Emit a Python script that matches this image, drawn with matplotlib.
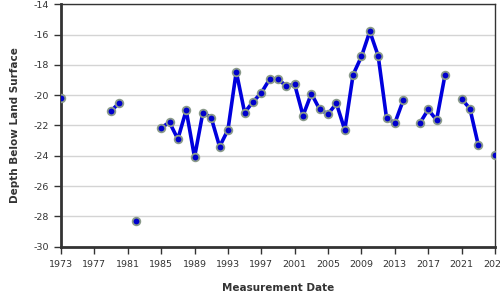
import numpy as np
import matplotlib
matplotlib.use('Agg')
import matplotlib.pyplot as plt

# water level readings, one per year (NaN = no measurement, breaks the line)
years = np.arange(1973, 2026)
depth = {
    1973: -20.2,
    1979: -21.05, 1980: -20.5,
    1982: -28.3,
    1985: -22.15, 1986: -21.8, 1987: -22.9, 1988: -21.0, 1989: -24.1,
    1990: -21.15, 1991: -21.5, 1992: -23.4, 1993: -22.3, 1994: -18.45,
    1995: -21.15, 1996: -20.45, 1997: -19.85, 1998: -18.95, 1999: -18.95,
    2000: -19.4, 2001: -19.3, 2002: -21.35, 2003: -19.9, 2004: -20.95,
    2005: -21.25, 2006: -20.55, 2007: -22.3, 2008: -18.65, 2009: -17.45,
    2010: -15.8, 2011: -17.4, 2012: -21.5, 2013: -21.85, 2014: -20.35,
    2016: -21.85, 2017: -20.95, 2018: -21.65, 2019: -18.7,
    2021: -20.25, 2022: -20.9, 2023: -23.3,
    2025: -23.95,
}
values = np.array([depth.get(y, np.nan) for y in years])

xticks = list(range(1973, 2026, 4))
yticks = list(range(-30, -13, 2))

plt.rcParams['axes.unicode_minus'] = False
plt.rcParams['font.family'] = 'DejaVu Sans'

fig = plt.figure(figsize=(5, 3), dpi=100)
ax = fig.add_axes([0.122, 0.178, 0.868, 0.808])

ax.plot(years, values, color='#0000dd', lw=2.6, zorder=3)
ax.plot(years, values, ls='none', marker='o', ms=5.5, mfc='#0000cc',
        mec='#8a9a8a', mew=1.3, zorder=4)

ax.set_xlim(1973, 2025)
ax.set_ylim(-30, -14)
ax.set_xticks(xticks)
ax.set_yticks(yticks)
ax.grid(axis='y', color='#d4d4d4', lw=1)
ax.set_axisbelow(True)

for s in ['left', 'bottom']:
    ax.spines[s].set_linewidth(2)
    ax.spines[s].set_color('#333333')
for s in ['top', 'right']:
    ax.spines[s].set_linewidth(1)
    ax.spines[s].set_color('#333333')

ax.tick_params(labelsize=6.8, colors='#333333', length=5, width=1)
ax.tick_params(axis='x', pad=5)
ax.set_xlabel('Measurement Date', fontsize=7.5, fontweight='bold',
              color='#333333', labelpad=10)
ax.set_ylabel('Depth Below Land Surface', fontsize=7.5, fontweight='bold',
              color='#333333', labelpad=10)

fig.savefig('out.png', dpi=100)
